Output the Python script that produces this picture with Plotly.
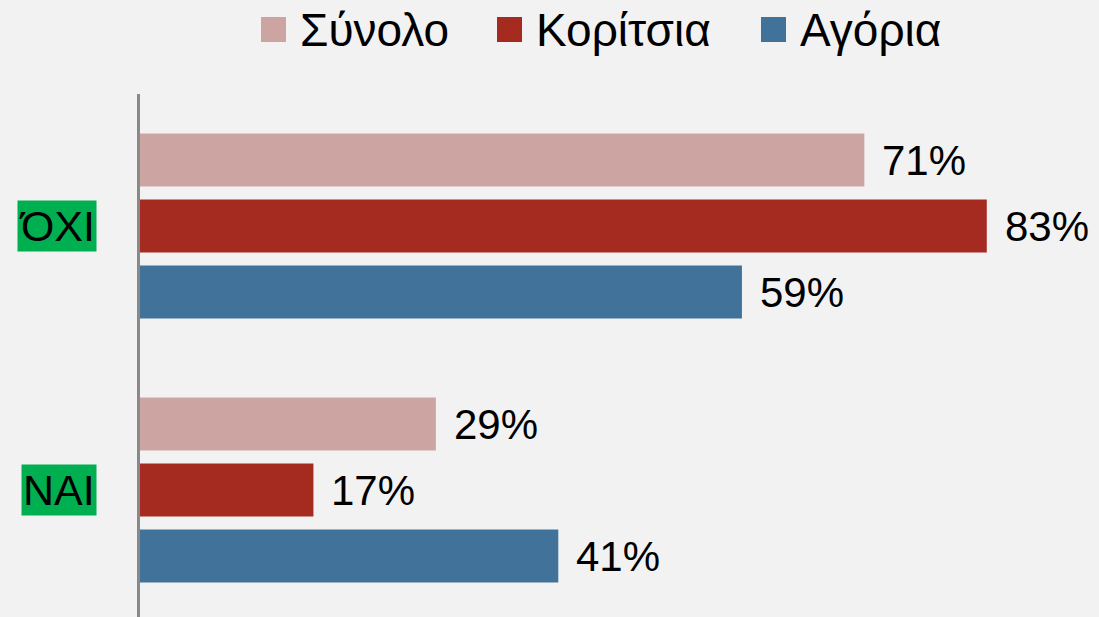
import plotly.graph_objects as go

categories = ["ΌΧΙ", "ΝΑΙ"]
series_names = ["Σύνολο", "Κορίτσια", "Αγόρια"]
synolo = [71, 29]
koritsia = [83, 17]
agoria = [59, 41]
colors = ["#cca5a3", "#a52a1f", "#41739a"]

values = [synolo, koritsia, agoria]

W, H = 1099, 617
ML, MR, MT, MB = 140, 0, 94, 0
PW, PH = W - ML - MR, H - MT - MB


def px_x(px):
    return (px - ML) / PW


def px_y(py):
    return (H - MB - py) / PH


FONT = "Liberation Sans, Arial, sans-serif"

fig = go.Figure()
for name, vals, col in zip(series_names, values, colors):
    fig.add_trace(go.Bar(
        y=categories, x=vals, name=name, orientation="h",
        marker=dict(color=col, line=dict(width=0)),
        hoverinfo="skip", showlegend=False,
    ))

annotations = []
shapes = []

# data labels
n = len(series_names)
group_w = 0.75
slot = group_w / n
for i, vals in enumerate(values):
    for j, v in enumerate(vals):
        yc = j - group_w / 2 + slot * (i + 0.5)
        annotations.append(dict(
            x=v, y=yc, xref="x", yref="y", text=f"{v}%", showarrow=False,
            xanchor="left", yanchor="middle", xshift=16,
            font=dict(family=FONT, size=42, color="#000000"),
        ))

# category labels with green background
for j, c in enumerate(categories):
    annotations.append(dict(
        x=px_x(97), y=j, xref="paper", yref="y", text=c, showarrow=False,
        xanchor="right", yanchor="middle", bgcolor="#00b050", borderpad=1,
        font=dict(family=FONT, size=43, color="#000000"),
    ))

# legend (drawn manually to match large square keys)
legend_sq_x = [261, 497, 761]
sq = 25
for name, col, lx in zip(series_names, colors, legend_sq_x):
    shapes.append(dict(
        type="rect", xref="paper", yref="paper",
        x0=px_x(lx), x1=px_x(lx + sq), y0=px_y(17 + sq), y1=px_y(17),
        fillcolor=col, line=dict(width=0),
    ))
    annotations.append(dict(
        x=px_x(lx + sq + 12), y=px_y(30), xref="paper", yref="paper",
        text=name, showarrow=False, xanchor="left", yanchor="middle",
        font=dict(family=FONT, size=46, color="#000000"),
    ))

fig.update_layout(
    width=W, height=H,
    margin=dict(l=ML, r=MR, t=MT, b=MB),
    paper_bgcolor="#f2f2f2", plot_bgcolor="#f2f2f2",
    barmode="group", bargap=0.25, bargroupgap=0.197,
    showlegend=False,
    xaxis=dict(range=[0, 94], showgrid=False, zeroline=False, showticklabels=False,
               showline=False, fixedrange=True),
    yaxis=dict(type="category", categoryorder="array", categoryarray=categories,
               range=[1.481, -0.5], showgrid=False, zeroline=False,
               showticklabels=False, showline=True, linecolor="#898989", linewidth=3,
               ticks="", fixedrange=True),
    annotations=annotations,
    shapes=shapes,
)

fig.write_html(
    "out.html",
    config={"displayModeBar": False},
    post_script="document.body.style.margin='0';document.body.style.overflow='hidden';document.body.style.background='#f2f2f2';",
)
